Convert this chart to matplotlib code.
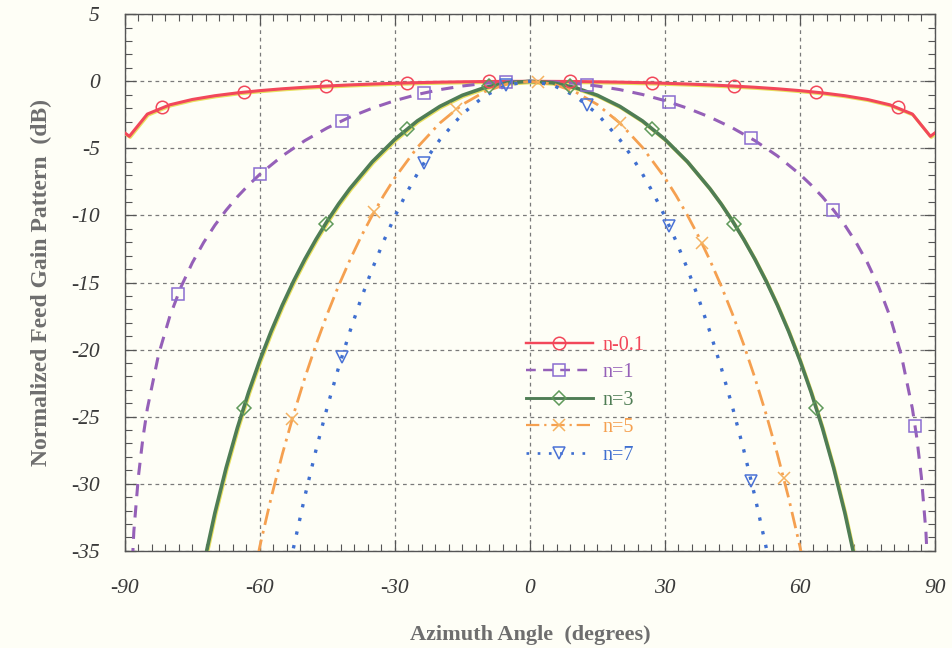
import matplotlib
matplotlib.use("Agg")
import matplotlib.pyplot as plt
import matplotlib.patheffects as pe
from matplotlib.lines import Line2D
from matplotlib.ticker import MultipleLocator

plt.rcParams["axes.unicode_minus"] = False

# curve samples (dB vs degrees, symmetric about 0)
half_01 = [0, 5, 10, 15, 20, 25, 30, 35, 40, 45, 50, 55, 60, 65, 70, 75, 80, 85, 89, 90]
gain_01 = [0, -0.004, -0.015, -0.035, -0.062, -0.098, -0.144, -0.20, -0.267, -0.347,
           -0.442, -0.556, -0.693, -0.861, -1.073, -1.352, -1.751, -2.44, -4.1, -3.85]

half_1 = [0, 5, 10, 15, 20, 25, 30, 35, 40, 45, 50, 55, 60, 62.5, 65, 67.5, 70, 72.5,
          75, 77.5, 80, 82.5, 85, 86, 87, 88, 89]
gain_1 = [0, -0.04, -0.15, -0.35, -0.62, -0.98, -1.44, -2.00, -2.67, -3.47, -4.42,
          -5.56, -6.93, -7.73, -8.61, -9.61, -10.73, -12.02, -13.52, -15.31, -17.51,
          -20.36, -24.40, -26.63, -29.50, -33.55, -40.48]

half_3 = [0, 5, 10, 15, 20, 25, 30, 35, 40, 42.5, 45, 47.5, 50, 52.5, 55, 57.5, 60,
          62.5, 65, 67.5, 70, 72.5, 75]
gain_3 = [0, -0.11, -0.46, -1.04, -1.87, -2.95, -4.32, -5.99, -8.00, -9.14, -10.40,
          -11.77, -13.26, -14.89, -16.68, -18.64, -20.79, -23.18, -25.84, -28.82, -32.19,
          -36.05, -40.55]

half_5 = [0, 5, 10, 15, 20, 25, 30, 32.5, 35, 37.5, 40, 42.5, 45, 47.5, 50, 52.5, 55,
          57.5, 60, 65]
gain_5 = [0, -0.19, -0.77, -1.73, -3.11, -4.92, -7.19, -8.52, -9.98, -11.57, -13.33,
          -15.24, -17.33, -19.61, -22.10, -24.82, -27.79, -31.06, -34.66, -43.06]

half_7 = [0, 5, 10, 15, 20, 22.5, 25, 27.5, 30, 32.5, 35, 37.5, 40, 42.5, 45, 47.5, 50,
          52.5, 55]
gain_7 = [0, -0.27, -1.07, -2.43, -4.35, -5.54, -6.89, -8.39, -10.07, -11.92, -13.97,
          -16.20, -18.66, -21.33, -24.26, -27.45, -30.94, -34.74, -38.91]

# marker positions
mk_x_01 = [-81.8, -63.6, -45.4, -27.2, -9.0, 9.0, 27.2, 45.4, 63.6, 81.8]
mk_y_01 = [-1.95, -0.81, -0.35, -0.12, -0.01, -0.01, -0.12, -0.35, -0.81, -1.95]
mk_x_1 = [-78.2, -60.0, -41.8, -23.6, -5.4, 12.8, 31.0, 49.2, 67.4, 85.6]
mk_y_1 = [-15.87, -6.93, -2.94, -0.87, -0.04, -0.25, -1.54, -4.26, -9.56, -25.68]
mk_x_3 = [-63.6, -45.4, -27.2, -9.0, 9.0, 27.2, 45.4, 63.6]
mk_y_3 = [-24.32, -10.61, -3.52, -0.37, -0.37, -3.52, -10.61, -24.32]
mk_x_5 = [-52.8, -34.6, -16.4, 1.8, 20.0, 38.2, 56.4]
mk_y_5 = [-25.15, -9.73, -2.08, -0.02, -3.11, -12.05, -29.59]
mk_x_7 = [-41.8, -23.6, -5.4, 12.8, 31.0, 49.2]
mk_y_7 = [-20.56, -6.11, -0.31, -1.76, -10.79, -29.79]

labels = ["n-0.1", "n=1", "n=3", "n=5", "n=7"]


def mirror(half, gain):
    xs = [-a for a in reversed(half[1:])] + half
    ys = list(reversed(gain[1:])) + gain
    return xs, ys


series = [
    dict(half=half_01, gain=gain_01, mx=mk_x_01, my=mk_y_01, color="#f2475a",
         mec="#f2475a", marker="o", ls="-", lw=2.2, halo=True),
    dict(half=half_1, gain=gain_1, mx=mk_x_1, my=mk_y_1, color="#9560b8",
         mec="#8a6cd0", marker="s", ls=(0, (4.0, 3.0)), lw=2.2, halo=False),
    dict(half=half_3, gain=gain_3, mx=mk_x_3, my=mk_y_3, color="#4f7d55",
         mec="#5f9a5a", marker="D", ls="-", lw=2.6, halo=True),
    dict(half=half_5, gain=gain_5, mx=mk_x_5, my=mk_y_5, color="#f5a050",
         mec="#f5b260", marker="x", ls=(0, (6, 2.2, 1, 2.2)), lw=2.0, halo=False),
    dict(half=half_7, gain=gain_7, mx=mk_x_7, my=mk_y_7, color="#3f6fd0",
         mec="#4a72d6", marker="v", ls=(0, (1, 3.2)), lw=2.4, halo=False),
]

bg = "#fefef6"
fig = plt.figure(figsize=(9.53, 6.48), dpi=100, facecolor=bg)
ax = fig.add_axes([0.131, 0.150, 0.850, 0.828], facecolor=bg)

handles = []
for s, lab in zip(series, labels):
    xs, ys = mirror(s["half"], s["gain"])
    effects = None
    if s["halo"]:
        effects = [pe.Stroke(linewidth=s["lw"], foreground="#e8e060", offset=(0.6, -0.8)),
                   pe.Normal()]
    ax.plot(xs, ys, color=s["color"], ls=s["ls"], lw=s["lw"], path_effects=effects,
            zorder=3)
    msize = 9 if s["marker"] != "D" else 7
    ax.plot(s["mx"], s["my"], ls="none", marker=s["marker"], ms=msize, mfc="none",
            mec=s["mec"], mew=1.1, zorder=4)
    handles.append(Line2D([], [], color=s["color"], ls=s["ls"], lw=s["lw"] * 0.8,
                          marker=s["marker"], ms=msize, mfc="none", mec=s["mec"],
                          mew=1.1))

ax.set_xlim(-90, 90)
ax.set_ylim(-35, 5)
ax.xaxis.set_major_locator(MultipleLocator(30))
ax.xaxis.set_minor_locator(MultipleLocator(3))
ax.yaxis.set_major_locator(MultipleLocator(5))
ax.yaxis.set_minor_locator(MultipleLocator(1))
ax.grid(True, which="major", color="#7a7a7a", ls=(0, (3, 3)), lw=0.9)
ax.tick_params(which="both", direction="in", top=True, right=True, color="#555555")
ax.tick_params(which="major", length=8, width=0.9)
ax.tick_params(which="minor", length=5, width=0.8)
ax.tick_params(axis="x", pad=20)
ax.tick_params(axis="y", pad=18)
for sp in ax.spines.values():
    sp.set_color("#555555")
    sp.set_linewidth(1.0)

for t in ax.get_xticklabels() + ax.get_yticklabels():
    t.set_fontfamily("Liberation Serif")
    t.set_fontstyle("italic")
    t.set_fontsize(15.5)
    t.set_color("#3a3a3a")

ax.set_xlabel("Azimuth Angle  (degrees)", family="Liberation Serif", weight="bold",
              fontsize=16, color="#6e6e6e", labelpad=20)
ax.set_ylabel("Normalized Feed Gain Pattern  (dB)", family="Liberation Serif",
              weight="bold", fontsize=17, color="#6e6e6e", labelpad=14)

leg = ax.legend(handles, labels, loc="upper left", bbox_to_anchor=(0.473, 0.435),
                frameon=False, handlelength=3.3, handletextpad=0.5, labelspacing=0.42,
                prop={"family": "Liberation Serif", "size": 14.5})
for txt, s in zip(leg.get_texts(), series):
    txt.set_color(s["color"])

fig.savefig("out.png", dpi=100, facecolor=bg)
